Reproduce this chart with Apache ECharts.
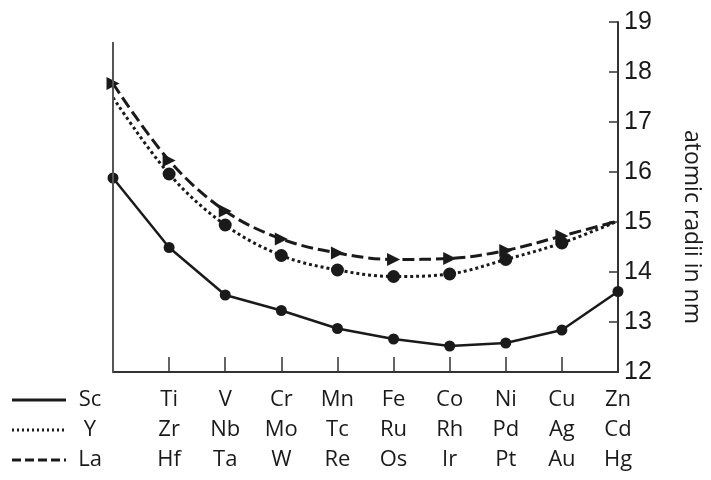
<!DOCTYPE html>
<html>
<head>
<meta charset="utf-8">
<script src="https://cdn.jsdelivr.net/npm/echarts@6/dist/echarts.min.js"></script>
<style>html,body{margin:0;padding:0;background:#fff}#c{width:711px;height:480px}</style>
</head>
<body>
<div id="c"></div>
<script>
const row1 = ['Sc','Ti','V','Cr','Mn','Fe','Co','Ni','Cu','Zn'];
const row2 = ['Y','Zr','Nb','Mo','Tc','Ru','Rh','Pd','Ag','Cd'];
const row3 = ['La','Hf','Ta','W','Re','Os','Ir','Pt','Au','Hg'];
const scSeries = [15.88, 14.49, 13.54, 13.23, 12.87, 12.66, 12.52, 12.58, 12.84, 13.61];
const ySeries  = [17.49, 15.96, 14.94, 14.33, 14.04, 13.91, 13.96, 14.25, 14.58, 15.02];
const laSeries = [17.77, 16.23, 15.22, 14.66, 14.38, 14.25, 14.27, 14.43, 14.72, 15.02];
const yTicks = [12, 13, 14, 15, 16, 17, 18, 19];
const leftLineTop = 18.6;

const ink = '#1a1a1a';
const catFont = 'Open Sans';
const chart = echarts.init(document.getElementById('c'));

function withSymbols(arr, noneIdx) {
  return arr.map((v, i) => noneIdx.includes(i) ? {value: v, symbol: 'none'} : v);
}

chart.setOption({
  animation: false,
  backgroundColor: '#fff',
  grid: {left: 113, right: 84, top: 22, bottom: 108},
  xAxis: {
    type: 'category',
    data: row1,
    boundaryGap: false,
    axisLine: {show: true, lineStyle: {color: '#333', width: 2}},
    axisTick: {show: true, inside: true, length: 15, alignWithLabel: true, lineStyle: {color: '#333', width: 1.5}},
    axisLabel: {
      interval: 0,
      margin: 13,
      alignMinLabel: 'right',
      formatter: function (value, index) {
        const st = index === 0 ? 'f' : 'a';
        return '{' + st + '|' + row1[index] + '}\n{' + st + '|' + row2[index] + '}\n{' + st + '|' + row3[index] + '}';
      },
      rich: {
        a: {fontFamily: catFont, fontSize: 22, lineHeight: 30, color: ink},
        f: {fontFamily: catFont, fontSize: 22, lineHeight: 30, color: ink, width: 28, align: 'center', padding: [0, 9, 0, 0]}
      }
    },
    splitLine: {show: false}
  },
  yAxis: {
    type: 'value',
    position: 'right',
    min: 12,
    max: 19,
    interval: 1,
    axisLine: {show: true, lineStyle: {color: '#333', width: 2}},
    axisTick: {show: true, inside: true, length: 9, lineStyle: {color: '#333', width: 1.5}},
    axisLabel: {
      margin: 6,
      fontFamily: 'Liberation Sans',
      fontSize: 25,
      color: ink,
      formatter: function (v) { return yTicks.includes(v) ? String(v) : ''; }
    },
    splitLine: {show: false},
    name: 'atomic radii in nm',
    nameLocation: 'middle',
    nameRotate: -90,
    nameGap: 62,
    nameTextStyle: {fontFamily: catFont, fontSize: 23, color: ink, padding: [0, 0, 0, 60]}
  },
  series: [
    {
      name: 'Sc', type: 'line', data: scSeries,
      symbol: 'circle', symbolSize: 11,
      lineStyle: {color: ink, width: 2.5},
      itemStyle: {color: ink},
      markLine: {
        silent: true, symbol: 'none', label: {show: false},
        lineStyle: {color: '#555', width: 2, type: 'solid'},
        data: [[{coord: [row1[0], 12]}, {coord: [row1[0], leftLineTop]}]]
      }
    },
    {
      name: 'Y', type: 'line', data: withSymbols(ySeries, [0, 9]),
      smooth: 0.35,
      symbol: 'circle', symbolSize: 13,
      lineStyle: {color: ink, width: 3, type: [3, 3]},
      itemStyle: {color: ink}
    },
    {
      name: 'La', type: 'line', data: withSymbols(laSeries, [9]),
      smooth: 0.35,
      symbol: 'triangle', symbolSize: 13, symbolRotate: -90,
      lineStyle: {color: ink, width: 3, type: [12, 5]},
      itemStyle: {color: ink}
    }
  ],
  graphic: [
    {type: 'line', shape: {x1: 12, y1: 400, x2: 66, y2: 400}, style: {stroke: ink, lineWidth: 3}},
    {type: 'line', shape: {x1: 12, y1: 430, x2: 66, y2: 430}, style: {stroke: ink, lineWidth: 3, lineDash: [2, 3]}},
    {type: 'line', shape: {x1: 12, y1: 460, x2: 66, y2: 460}, style: {stroke: ink, lineWidth: 3, lineDash: [9, 4]}}
  ]
});
</script>
</body>
</html>
